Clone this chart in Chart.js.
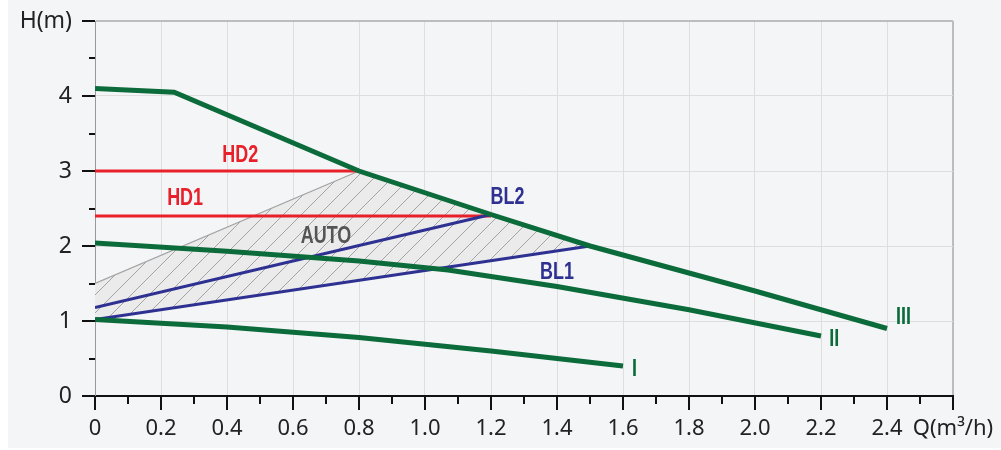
<!DOCTYPE html>
<html>
<head>
<meta charset="utf-8">
<script src="https://cdn.jsdelivr.net/npm/chart.js@4.4.1/dist/chart.umd.min.js"></script>
<style>
  html, body { margin: 0; padding: 0; background: #fff; }
  #wrap { width: 1001px; height: 450px; }
</style>
</head>
<body>
<div id="wrap"><canvas id="myChart" width="1001" height="450"></canvas></div>
<script>
// pump curves (Q in m3/h, H in m)
var q1 = [0, 0.4, 0.8, 1.2, 1.6];
var h1 = [1.02, 0.92, 0.78, 0.6, 0.4];
var q2 = [0, 0.4, 0.8, 1.07, 1.4, 1.8, 2.2];
var h2 = [2.04, 1.93, 1.8, 1.68, 1.46, 1.15, 0.8];
var q3 = [0, 0.24, 0.8, 1.2, 1.5, 2.0, 2.4];
var h3 = [4.1, 4.05, 3.0, 2.42, 2.0, 1.4, 0.9];
var qHD2 = [0, 0.8], hHD2 = [3.0, 3.0];
var qHD1 = [0, 1.2], hHD1 = [2.4, 2.4];
var qBL2 = [0, 1.2], hBL2 = [1.18, 2.42];
var qBL1 = [0, 1.5], hBL1 = [1.02, 2.0];
var qAuto = [0, 0.8, 1.2, 1.5];
var hAuto = [1.5, 3.0, 2.42, 2.0];

var xTicks = ["0", "0.2", "0.4", "0.6", "0.8", "1.0", "1.2", "1.4", "1.6", "1.8", "2.0", "2.2", "2.4", "Q(m³/h)"];
var yTicks = ["0", "1", "2", "3", "4", "H(m)"];

// curve names placed in data units
var names = [
  { text: "HD2", q: 0.44, h: 3.21, color: "#e8202a" },
  { text: "HD1", q: 0.273, h: 2.63, color: "#e8202a" },
  { text: "AUTO", q: 0.70, h: 2.13, color: "#555555" },
  { text: "BL2", q: 1.25, h: 2.65, color: "#2e3192" },
  { text: "BL1", q: 1.40, h: 1.65, color: "#2e3192" },
  { text: "I", q: 1.635, h: 0.35, color: "#0b6b3a" },
  { text: "II", q: 2.24, h: 0.75, color: "#0b6b3a" },
  { text: "III", q: 2.45, h: 1.04, color: "#0b6b3a" }
];

function pts(qs, hs) {
  return qs.map(function (q, i) { return { x: q, y: hs[i] }; });
}

var GREEN = "#0b6b3a", RED = "#e8202a", NAVY = "#2e3192";

function line(data, color, width, order) {
  return {
    data: data, borderColor: color, backgroundColor: color,
    borderWidth: width, pointRadius: 0, fill: false, tension: 0,
    showLine: true, order: order, borderCapStyle: "butt"
  };
}

var isMajorX = function (v) { return Math.abs(Math.round(v * 10) % 2) === 0; };

var bgPlugin = {
  id: "bg",
  beforeDraw: function (chart) {
    var c = chart.ctx;
    c.save();
    c.fillStyle = "#ffffff";
    c.fillRect(0, 0, chart.width, chart.height);
    c.fillStyle = "#f4f5f7";
    c.fillRect(8, 0, chart.width - 8, 448);
    c.restore();
  }
};

var hatchPlugin = {
  id: "hatch",
  beforeDatasetsDraw: function (chart) {
    var c = chart.ctx, xs = chart.scales.x, ys = chart.scales.y;
    var poly = [];
    qAuto.forEach(function (q, i) { poly.push([xs.getPixelForValue(q), ys.getPixelForValue(hAuto[i])]); });
    for (var i = qBL1.length - 1; i >= 0; i--) poly.push([xs.getPixelForValue(qBL1[i]), ys.getPixelForValue(hBL1[i])]);
    c.save();
    c.beginPath();
    poly.forEach(function (p, i) { if (i) c.lineTo(p[0], p[1]); else c.moveTo(p[0], p[1]); });
    c.closePath();
    c.fillStyle = "#ebebeb";
    c.fill();
    c.clip();
    c.strokeStyle = "#a3a3a3";
    c.lineWidth = 1;
    c.beginPath();
    for (var k = -600; k < 1200; k += 18) {
      c.moveTo(k, 450);
      c.lineTo(k + 450, 0);
    }
    c.stroke();
    c.restore();
  }
};

var decoPlugin = {
  id: "deco",
  afterDraw: function (chart) {
    var c = chart.ctx, xs = chart.scales.x, ys = chart.scales.y;
    var bottom = chart.chartArea.bottom, left = chart.chartArea.left;
    c.save();
    c.strokeStyle = "#111";
    c.lineWidth = 2;
    c.beginPath();
    for (var i = 0; i <= 26; i++) {
      var px = Math.round(xs.getPixelForValue(i / 10));
      c.moveTo(px, bottom);
      c.lineTo(px, bottom + (i % 2 === 0 ? 14 : 8));
    }
    for (var j = 0; j <= 10; j++) {
      var py = Math.round(ys.getPixelForValue(j / 2));
      c.moveTo(left, py);
      c.lineTo(left - (j % 2 === 0 ? 13 : 6), py);
    }
    c.stroke();
    // condensed bold labels
    c.font = "bold 23px 'Liberation Sans', sans-serif";
    c.textAlign = "center";
    c.textBaseline = "middle";
    names.forEach(function (n) {
      c.save();
      c.translate(xs.getPixelForValue(n.q), ys.getPixelForValue(n.h));
      c.scale(0.78, 1);
      c.fillStyle = n.color;
      c.fillText(n.text, 0, 0);
      c.restore();
    });
    c.restore();
  }
};

var ctx = document.getElementById("myChart").getContext("2d");
var chart = new Chart(ctx, {
  type: "scatter",
  data: {
    datasets: [
      line(pts(qAuto.slice(0, 2), hAuto.slice(0, 2)), "#a3a3a3", 1.3, 10),
      line(pts(qHD2, hHD2), RED, 3, 6),
      line(pts(qHD1, hHD1), RED, 3, 6),
      line(pts(qBL2, hBL2), NAVY, 3, 4),
      line(pts(qBL1, hBL1), NAVY, 3, 4),
      line(pts(q1, h1), GREEN, 5, 1),
      line(pts(q2, h2), GREEN, 5, 1),
      line(pts(q3, h3), GREEN, 5, 1)
    ]
  },
  options: {
    responsive: false,
    animation: false,
    layout: { padding: { top: 21, right: 48, left: 0, bottom: 0 } },
    plugins: { legend: { display: false }, tooltip: { enabled: false } },
    scales: {
      x: {
        type: "linear", min: 0, max: 2.6,
        afterFit: function (s) {
          s.height = 54;
          s.paddingLeft = 0; s.paddingRight = 0;
        },
        border: { color: "#111", width: 2 },
        grid: {
          drawTicks: false,
          color: function (c) {
            var v = c.tick.value;
            if (Math.abs(v - 2.6) < 1e-6) return "#bdbdbd";
            return isMajorX(v) ? "#dedede" : "rgba(0,0,0,0)";
          },
          lineWidth: function (c) { return Math.abs(c.tick.value - 2.6) < 1e-6 ? 2 : 1; }
        },
        ticks: {
          stepSize: 0.1, autoSkip: false, maxRotation: 0, padding: 20,
          color: "#222",
          font: { family: "'Noto Sans', sans-serif", size: 22 },
          callback: function (v) {
            var i = Math.round(v * 10);
            return i % 2 === 0 ? xTicks[i / 2] : "";
          }
        }
      },
      y: {
        type: "linear", min: 0, max: 5,
        afterFit: function (s) {
          s.width = 95;
          s.paddingTop = 0; s.paddingBottom = 0;
        },
        border: { color: "#999", width: 1 },
        grid: {
          drawTicks: false,
          color: function (c) {
            var v = c.tick.value;
            if (v === 5) return "#bdbdbd";
            return Number.isInteger(v) ? "#dedede" : "rgba(0,0,0,0)";
          },
          lineWidth: function (c) { return c.tick.value === 5 ? 2 : 1; }
        },
        ticks: {
          stepSize: 0.5, autoSkip: false, padding: 23,
          color: "#222",
          font: { family: "'Noto Sans', sans-serif", size: 23 },
          callback: function (v) {
            return Number.isInteger(v) ? yTicks[v] : "";
          }
        }
      }
    }
  },
  plugins: [bgPlugin, hatchPlugin, decoPlugin]
});
</script>
</body>
</html>
